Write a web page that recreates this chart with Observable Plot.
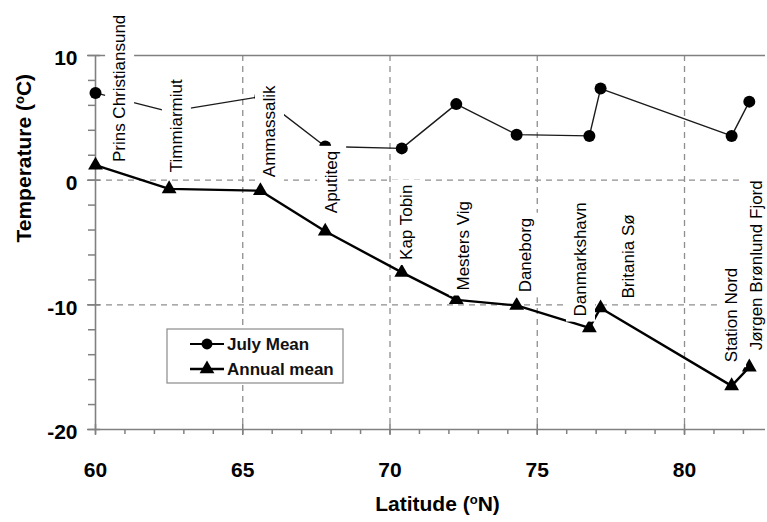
<!DOCTYPE html>
<html><head><meta charset="utf-8">
<script src="https://cdn.jsdelivr.net/npm/d3@7"></script>
<script src="https://cdn.jsdelivr.net/npm/@observablehq/plot@0.6"></script>
<style>body{margin:0;background:#fff} #chart{position:relative;width:767px;height:522px}</style>
</head><body><div id="chart"></div>
<script>
// ---- data ----
const stations = ["Prins Christiansund","Timmiarmiut","Ammassalik","Aputiteq","Kap Tobin","Mesters Vig","Daneborg","Danmarkshavn","Britania Sø","Station Nord","Jørgen Brønlund Fjord"];
const latitude = [60.0, 62.5, 65.6, 67.8, 70.4, 72.25, 74.3, 76.77, 77.15, 81.6, 82.2];
const julyMean = [7.0, 5.5, 6.7, 2.7, 2.55, 6.1, 3.65, 3.55, 7.35, 3.55, 6.3];
const annualMean = [1.2, -0.7, -0.85, -4.1, -7.4, -9.6, -10.05, -11.85, -10.25, -16.5, -15.0];
// label anchors (latitude, temperature) of each station name
const labelLatitude = [60.82, 62.75, 65.91, 68.02, 70.56, 72.5, 74.61, 76.47, 78.1, 81.6, 82.45];
const labelTemperature = [1.45, 0.64, 0.24, -2.65, -6.4, -8.85, -9.0, -10.94, -9.49, -14.6, -13.65];
const xDomain = [60, 82.75];
const yDomain = [-20, 10];
const xMajor = [60, 65, 70, 75, 80];
const xMinor = d3.range(60, 83, 1);
const yMajor = [-20, -10, 0, 10];
const yMinor = d3.range(-20, 11, 2);
const xGrid = [65, 70, 75, 80];
const yGrid = [-10, 0];
const seriesNames = ["July Mean", "Annual mean"];
const xTitle = "Latitude (°N)";
const yTitle = "Temperature (°C)";

const table = stations.map((station, i) => ({
  station, lat: latitude[i], july: julyMean[i], annual: annualMean[i],
  lx: labelLatitude[i], ly: labelTemperature[i]
}));

const font = "'Liberation Sans', Arial, sans-serif";
const axisColor = "#808080";
const gridStyle = {stroke: "#8e8e8e", strokeWidth: 1.3, strokeDasharray: "6,5", strokeOpacity: 1};
const frameStyle = {stroke: axisColor, strokeWidth: 1.6};

const chart = Plot.plot({
  width: 767, height: 522,
  marginLeft: 95, marginRight: 2, marginTop: 55, marginBottom: 93,
  style: {fontFamily: font, background: "white", color: "black"},
  x: {domain: xDomain},
  y: {domain: yDomain},
  marks: [
    Plot.gridX(xGrid, gridStyle),
    Plot.gridY(yGrid, gridStyle),
    Plot.ruleY([yDomain[1]], frameStyle),
    Plot.ruleY([yDomain[0]], frameStyle),
    Plot.ruleX([xDomain[0]], frameStyle),
    Plot.line(table, {x: "lat", y: "july", stroke: "#1a1a1a", strokeWidth: 1.4}),
    Plot.dot(table, {x: "lat", y: "july", r: 6, fill: "black"}),
    Plot.line(table, {x: "lat", y: "annual", stroke: "black", strokeWidth: 2.4}),
    Plot.dot(table, {x: "lat", y: "annual", symbol: "triangle", r: 5.5, fill: "black"}),
    Plot.text(table, {x: "lx", y: "ly", text: "station", rotate: -90, textAnchor: "start",
      fontSize: 17, fill: "black"}),
    // axes
    Plot.axisX(xMinor, {tickSize: 5, tickFormat: () => "", label: null, stroke: axisColor, strokeWidth: 1.5}),
    Plot.axisX(xMajor, {tickSize: 11, dy: -5, tickFormat: () => "", label: null, stroke: axisColor, strokeWidth: 1.5}),
    Plot.axisX(xMajor, {tickSize: 0, tickPadding: 33, fontSize: 21, fontWeight: "bold", fill: "black", label: null,
      tickFormat: d => String(d)}),
    Plot.axisY(yMinor, {tickSize: 7, tickFormat: () => "", label: null, stroke: axisColor, strokeWidth: 1.5}),
    Plot.axisY(yMajor, {tickSize: 13, dx: 5, tickFormat: () => "", label: null, stroke: axisColor, strokeWidth: 1.5}),
    Plot.axisY(yMajor, {tickSize: 0, tickPadding: 18, dy: 3, fontSize: 21, fontWeight: "bold", fill: "black", label: null,
      tickFormat: d => String(d)}),
    // titles
    Plot.text([xTitle], {frameAnchor: "bottom", dx: 7, dy: 81, fontSize: 21, fontWeight: "bold", fill: "black"}),
    Plot.text([yTitle], {frameAnchor: "left", dx: -71, rotate: -90, fontSize: 21, fontWeight: "bold", fill: "black"})
  ]
});

document.getElementById("chart").appendChild(chart);
const svg = d3.select(chart);

// superscript "o" in the axis titles
svg.selectAll("text").each(function() {
  const t = this.textContent;
  if (t === xTitle || t === yTitle) {
    const unit = t === xTitle ? "N)" : "C)";
    const head = t.slice(0, t.indexOf("(") + 1);
    const sel = d3.select(this);
    sel.text(null);
    sel.append("tspan").text(head);
    sel.append("tspan").attr("baseline-shift", "super").attr("font-size", "0.62em").text("o");
    sel.append("tspan").text(unit);
  }
});

// white boxes behind the station labels (as in the original, they mask lines beneath)
const stationSet = new Set(stations);
svg.selectAll("text").filter(function() { return stationSet.has(this.textContent); }).each(function() {
  const b = this.getBBox();
  const rect = document.createElementNS("http://www.w3.org/2000/svg", "rect");
  rect.setAttribute("x", b.x - 5);
  rect.setAttribute("y", b.y - 5);
  rect.setAttribute("width", b.width + 10);
  rect.setAttribute("height", b.height + 10);
  rect.setAttribute("fill", "white");
  rect.setAttribute("stroke", "none");
  const tr = this.getAttribute("transform");
  if (tr) rect.setAttribute("transform", tr);
  this.parentNode.insertBefore(rect, this);
});

// legend box
const lg = svg.append("g").attr("font-family", font).attr("text-anchor", "start");
lg.append("rect").attr("x", 167).attr("y", 329).attr("width", 176).attr("height", 54)
  .attr("fill", "white").attr("stroke", "#8a8a8a").attr("stroke-width", 1.2);
const rows = [
  {name: seriesNames[0], y: 344, sym: d3.symbolCircle, size: Math.PI * 30, w: 1.8},
  {name: seriesNames[1], y: 369, sym: d3.symbolTriangle, size: Math.PI * 30, w: 2.6}
];
for (const r of rows) {
  lg.append("line").attr("x1", 190).attr("x2", 224).attr("y1", r.y).attr("y2", r.y)
    .attr("stroke", "black").attr("stroke-width", r.w);
  lg.append("path").attr("d", d3.symbol(r.sym, r.size)()).attr("transform", `translate(207,${r.y})`).attr("fill", "black");
  lg.append("text").attr("x", 227).attr("y", r.y).attr("dy", "0.38em").attr("font-size", 17)
    .attr("text-anchor", "start").attr("font-weight", "bold").attr("fill", "#111").text(r.name);
}
</script>
</body></html>
